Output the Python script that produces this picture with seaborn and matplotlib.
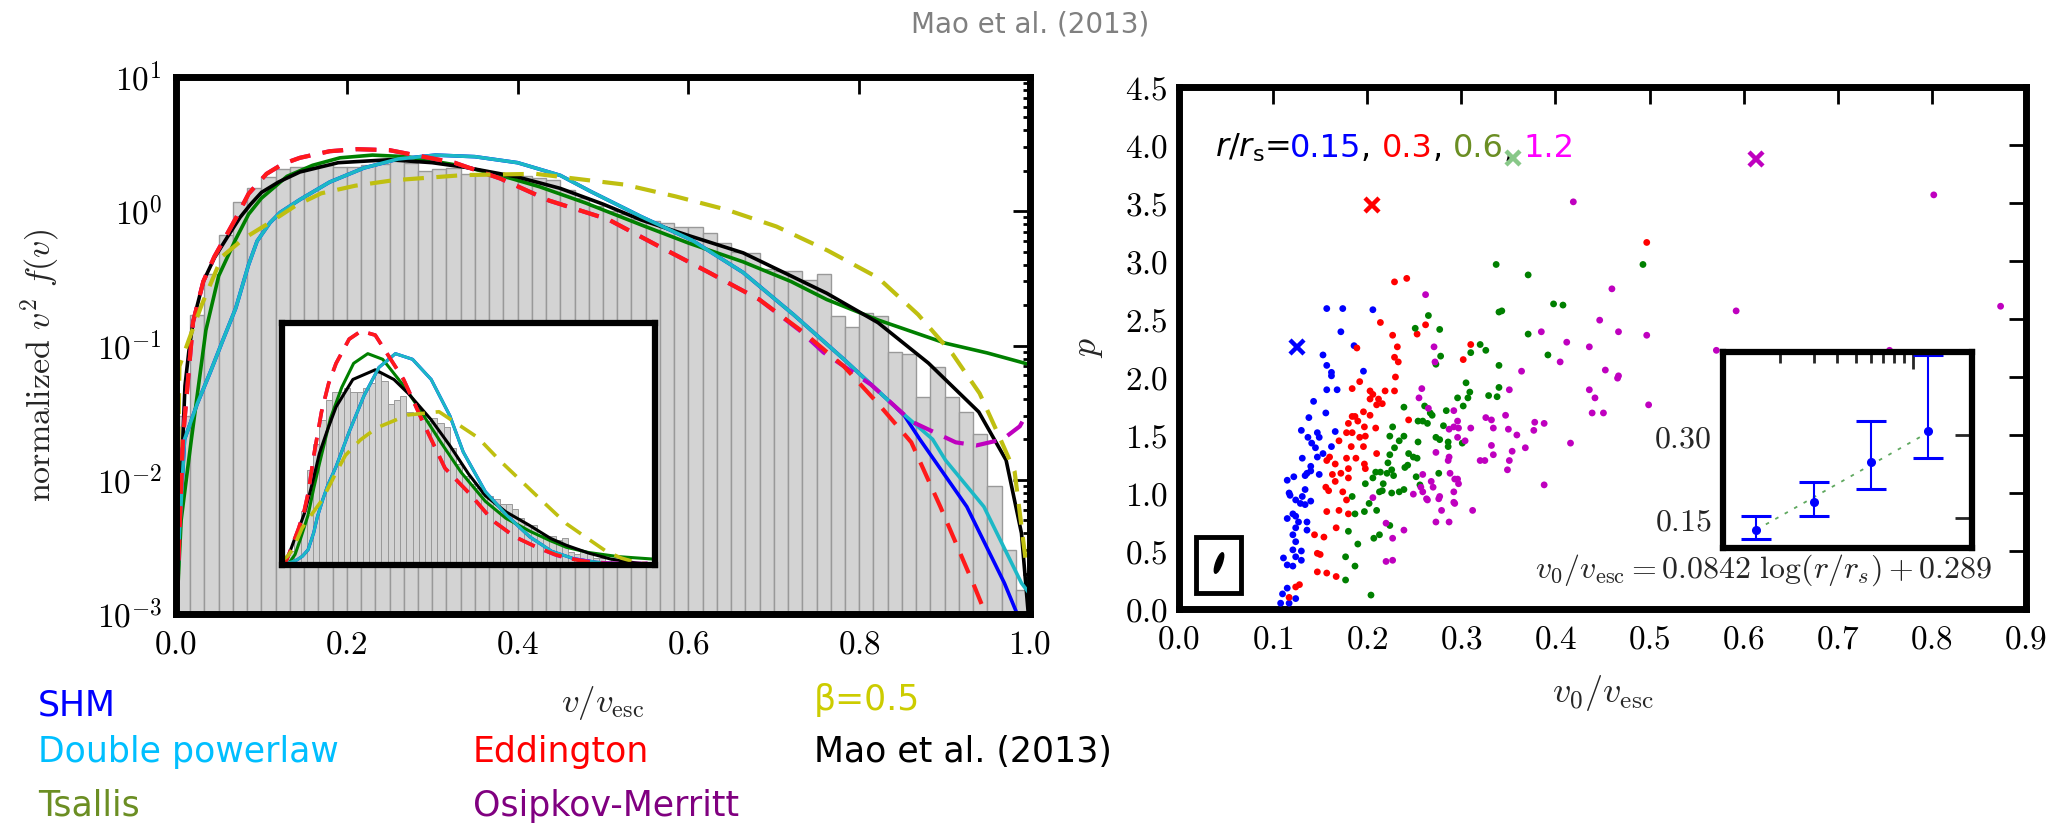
import numpy as np
import pandas as pd
import seaborn as sns
import matplotlib.pyplot as plt
from matplotlib import transforms
from matplotlib.patches import Rectangle, Ellipse
from matplotlib.ticker import MultipleLocator, FuncFormatter, LogLocator, NullFormatter, FixedLocator

# ---------------- data ----------------
# histogram of v/v_esc, 60 equal bins on [0, 1]
n_bins = 60
hist_heights = [0.03, 0.17, 0.34, 0.67, 1.18, 1.5, 1.8, 2.05, 2.14, 2.15,
                2.2, 2.15, 2.15, 2.2, 2.25, 2.38, 2.28, 2.0, 2.05, 2.1,
                1.9, 1.87, 1.87, 1.78, 1.82, 1.76, 1.71, 1.45, 1.25, 1.1,
                1.0, 0.95, 0.88, 0.85, 0.82, 0.76, 0.76, 0.69, 0.58, 0.50,
                0.49, 0.37, 0.36, 0.36, 0.31, 0.34, 0.165, 0.138, 0.176, 0.165,
                0.089, 0.087, 0.041, 0.069, 0.041, 0.032, 0.022, 0.009, 0.003, 0.0015]

# model curves (v/v_esc, normalized v^2 f(v))
dpl_v = [0.0, 0.004, 0.01, 0.025, 0.04, 0.055, 0.07, 0.085, 0.095, 0.11, 0.122, 0.145, 0.18,
         0.22, 0.26, 0.304, 0.35, 0.4, 0.45, 0.486, 0.545, 0.604, 0.664, 0.723, 0.782, 0.842,
         0.886, 0.901, 0.946, 0.99, 1.0]
dpl_y = [0.0008, 0.004, 0.02, 0.037, 0.063, 0.11, 0.19, 0.4, 0.6, 0.82, 0.98, 1.22, 1.65,
         2.1, 2.45, 2.62, 2.55, 2.3, 1.85, 1.4, 0.91, 0.61, 0.35, 0.17, 0.079, 0.035,
         0.02, 0.014, 0.0063, 0.0017, 0.0014]

shm_v = [0.0, 0.004, 0.01, 0.025, 0.04, 0.055, 0.07, 0.085, 0.095, 0.11, 0.122, 0.145, 0.18,
         0.22, 0.26, 0.304, 0.35, 0.4, 0.45, 0.486, 0.545, 0.604, 0.664, 0.723, 0.782, 0.842,
         0.853, 0.871, 0.926, 0.97, 0.985]
shm_y = [0.0008, 0.004, 0.02, 0.037, 0.063, 0.11, 0.19, 0.4, 0.6, 0.82, 0.98, 1.22, 1.65,
         2.1, 2.45, 2.62, 2.55, 2.3, 1.85, 1.4, 0.91, 0.61, 0.35, 0.17, 0.079, 0.035,
         0.03, 0.02, 0.0063, 0.0017, 0.001]

tsallis_v = [0.0, 0.006, 0.018, 0.035, 0.05, 0.07, 0.085, 0.1, 0.13, 0.16, 0.192, 0.23, 0.27,
             0.33, 0.38, 0.426, 0.48, 0.545, 0.6, 0.664, 0.72, 0.762, 0.822, 0.901, 0.95, 1.0]
tsallis_y = [0.0008, 0.005, 0.02, 0.13, 0.33, 0.62, 0.95, 1.25, 1.82, 2.2, 2.5, 2.62, 2.55,
             2.2, 1.85, 1.52, 1.15, 0.79, 0.58, 0.42, 0.3, 0.22, 0.155, 0.104, 0.088, 0.072]

edd_v = [0.0, 0.008, 0.02, 0.032, 0.045, 0.06, 0.071, 0.085, 0.106, 0.125, 0.145, 0.18, 0.212,
         0.25, 0.326, 0.38, 0.437, 0.506, 0.565, 0.624, 0.683, 0.735, 0.782, 0.822, 0.861,
         0.895, 0.935, 0.948]
edd_y = [0.0008, 0.02, 0.15, 0.3, 0.46, 0.68, 0.91, 1.35, 1.9, 2.25, 2.5, 2.8, 2.9,
         2.85, 2.3, 1.75, 1.2, 0.87, 0.55, 0.35, 0.22, 0.125, 0.07, 0.037, 0.019,
         0.0063, 0.0016, 0.001]

om_v = [0.0, 0.008, 0.02, 0.032, 0.045, 0.06, 0.071, 0.085, 0.106, 0.125, 0.145, 0.18, 0.212,
        0.25, 0.326, 0.38, 0.437, 0.506, 0.565, 0.624, 0.683, 0.73, 0.758, 0.814, 0.862,
        0.913, 0.937, 0.968, 0.988, 0.995]
om_y = [0.0008, 0.02, 0.15, 0.3, 0.46, 0.68, 0.91, 1.35, 1.9, 2.25, 2.5, 2.8, 2.9,
        2.85, 2.3, 1.75, 1.2, 0.87, 0.55, 0.35, 0.22, 0.13, 0.089, 0.051, 0.027,
        0.019, 0.018, 0.02, 0.025, 0.03]

beta_v = [0.0, 0.004, 0.015, 0.03, 0.054, 0.08, 0.108, 0.14, 0.17, 0.21, 0.254, 0.337, 0.421,
          0.525, 0.585, 0.644, 0.703, 0.763, 0.822, 0.869, 0.909, 0.941, 0.964, 0.982, 0.995]
beta_y = [0.001, 0.07, 0.11, 0.2, 0.46, 0.63, 0.81, 1.1, 1.36, 1.55, 1.70, 1.86, 1.9,
          1.58, 1.29, 1.03, 0.77, 0.51, 0.32, 0.17, 0.087, 0.044, 0.021, 0.0115, 0.0025]

mao_v = [0.0, 0.004, 0.008, 0.0105, 0.015, 0.02, 0.032, 0.045, 0.06, 0.075, 0.087, 0.1, 0.12,
         0.145, 0.19, 0.25, 0.3, 0.34, 0.4, 0.45, 0.5, 0.545, 0.6, 0.664, 0.72, 0.762, 0.822,
         0.881, 0.94, 0.972, 0.99, 0.998]
mao_y = [0.0008, 0.006, 0.02, 0.05, 0.09, 0.15, 0.3, 0.45, 0.64, 0.9, 1.12, 1.38, 1.65,
         1.96, 2.3, 2.42, 2.3, 2.12, 1.8, 1.48, 1.13, 0.86, 0.66, 0.49, 0.33, 0.245, 0.148,
         0.074, 0.032, 0.014, 0.004, 0.001]

# scatter: v0/v_esc and p for r/r_s = 0.15, 0.3, 0.6, 1.2
blue_v0 = [0.157, 0.174, 0.206, 0.172, 0.186, 0.153, 0.157, 0.162, 0.196, 0.157, 0.168, 0.162,
           0.143, 0.156, 0.138, 0.130, 0.137, 0.147, 0.149, 0.166, 0.141, 0.145, 0.162, 0.131,
           0.147, 0.153, 0.140, 0.136, 0.134, 0.140, 0.122, 0.149, 0.118, 0.131, 0.140, 0.129,
           0.117, 0.134, 0.124, 0.134, 0.115, 0.121, 0.124, 0.127, 0.124, 0.136, 0.121, 0.136,
           0.124, 0.121, 0.130, 0.111, 0.124, 0.115, 0.121, 0.130, 0.115, 0.110, 0.124, 0.108,
           0.117, 0.115]
blue_p = [2.59, 2.59, 2.58, 2.39, 2.27, 2.19, 2.10, 2.04, 2.05, 1.89, 1.89, 2.01,
          1.79, 1.69, 1.65, 1.54, 1.48, 1.52, 1.48, 1.53, 1.43, 1.39, 1.40, 1.30,
          1.31, 1.34, 1.23, 1.17, 1.15, 1.19, 1.14, 1.16, 0.98, 0.97, 0.93, 0.91,
          1.00, 1.03, 0.94, 0.90, 0.78, 0.82, 0.80, 0.75, 0.70, 0.75, 0.64, 0.68,
          0.58, 0.51, 0.50, 0.44, 0.45, 0.38, 0.37, 0.42, 0.18, 0.13, 0.09, 0.05,
          0.05, 1.11]

red_v0 = [0.229, 0.242, 0.214, 0.262, 0.253, 0.227, 0.189, 0.232, 0.229, 0.233, 0.310, 0.302,
          0.230, 0.192, 0.184, 0.203, 0.206, 0.219, 0.229, 0.203, 0.212, 0.216, 0.210, 0.196,
          0.203, 0.184, 0.187, 0.180, 0.190, 0.197, 0.209, 0.178, 0.184, 0.192, 0.198, 0.170,
          0.183, 0.196, 0.244, 0.210, 0.160, 0.166, 0.178, 0.188, 0.198, 0.180, 0.163, 0.172,
          0.180, 0.156, 0.159, 0.166, 0.174, 0.178, 0.497, 0.157, 0.197, 0.170, 0.157, 0.180,
          0.167, 0.144, 0.154, 0.147, 0.150, 0.147, 0.157, 0.167, 0.124, 0.128, 0.117]
red_p = [2.82, 2.85, 2.47, 2.45, 2.37, 2.36, 2.25, 2.26, 2.17, 2.13, 2.28, 2.15,
         2.00, 1.96, 1.90, 1.88, 1.85, 1.88, 1.88, 1.81, 1.81, 1.77, 1.76, 1.70,
         1.67, 1.66, 1.66, 1.60, 1.62, 1.57, 1.56, 1.52, 1.52, 1.48, 1.49, 1.45,
         1.40, 1.40, 1.63, 1.34, 1.31, 1.25, 1.30, 1.30, 1.21, 1.21, 1.16, 1.17,
         1.13, 1.05, 1.02, 1.10, 1.01, 0.94, 3.16, 1.28, 1.25, 0.85, 0.84, 0.82,
         0.70, 0.64, 0.62, 0.48, 0.47, 0.32, 0.31, 0.28, 0.19, 0.21, 0.10]

green_v0 = [0.337, 0.371, 0.493, 0.398, 0.408, 0.340, 0.343, 0.265, 0.251, 0.277, 0.371, 0.320,
            0.326, 0.310, 0.278, 0.273, 0.392, 0.340, 0.305, 0.340, 0.309, 0.329, 0.338, 0.296,
            0.307, 0.239, 0.261, 0.302, 0.284, 0.267, 0.269, 0.254, 0.259, 0.264, 0.281, 0.227,
            0.239, 0.224, 0.234, 0.273, 0.277, 0.286, 0.254, 0.301, 0.286, 0.244, 0.249, 0.253,
            0.224, 0.229, 0.222, 0.243, 0.209, 0.214, 0.221, 0.226, 0.228, 0.276, 0.206, 0.198,
            0.216, 0.226, 0.239, 0.184, 0.202, 0.240, 0.217, 0.213, 0.234, 0.187, 0.197, 0.210,
            0.224, 0.180, 0.207, 0.213, 0.190, 0.177, 0.187, 0.177, 0.204, 0.256, 0.252]
green_p = [2.97, 2.88, 2.97, 2.63, 2.62, 2.56, 2.57, 2.53, 2.42, 2.41, 2.37, 2.28,
           2.23, 2.21, 2.18, 2.11, 2.19, 2.10, 1.95, 1.91, 1.87, 1.84, 1.83, 1.82,
           1.82, 1.74, 1.75, 1.75, 1.71, 1.69, 1.67, 1.62, 1.62, 1.60, 1.58, 1.57,
           1.49, 1.49, 1.45, 1.48, 1.46, 1.44, 1.44, 1.43, 1.40, 1.34, 1.31, 1.30,
           1.33, 1.39, 1.26, 1.24, 1.18, 1.18, 1.17, 1.20, 1.15, 1.17, 1.13, 1.08,
           1.02, 1.00, 1.03, 0.97, 0.91, 1.22, 1.08, 1.01, 1.01, 0.82, 0.84, 0.85,
           0.72, 0.67, 0.61, 0.64, 0.56, 0.45, 0.37, 0.25, 0.12, 1.07, 1.14]

mag_v0 = [0.419, 0.262, 0.460, 0.447, 0.385, 0.467, 0.412, 0.436, 0.497, 0.271, 0.405, 0.272,
          0.364, 0.453, 0.467, 0.436, 0.351, 0.258, 0.255, 0.442, 0.499, 0.439, 0.451, 0.265,
          0.326, 0.332, 0.347, 0.292, 0.296, 0.292, 0.287, 0.297, 0.310, 0.378, 0.388, 0.334,
          0.350, 0.377, 0.359, 0.296, 0.304, 0.416, 0.332, 0.368, 0.354, 0.334, 0.273, 0.286,
          0.320, 0.325, 0.351, 0.259, 0.349, 0.288, 0.296, 0.388, 0.257, 0.259, 0.249, 0.264,
          0.277, 0.292, 0.206, 0.802, 0.873, 0.592, 0.571, 0.755, 0.466, 0.287, 0.293, 0.268,
          0.297, 0.292, 0.263, 0.276, 0.293, 0.312, 0.279, 0.273, 0.287, 0.220, 0.239, 0.227,
          0.220, 0.227, 0.270]
mag_p = [3.51, 2.71, 2.76, 2.49, 2.39, 2.39, 2.30, 2.26, 2.36, 2.26, 2.13, 2.13,
         2.05, 2.06, 2.01, 1.89, 1.89, 1.90, 1.82, 1.82, 1.76, 1.69, 1.69, 1.73,
         1.65, 1.63, 1.67, 1.71, 1.62, 1.57, 1.55, 1.56, 1.56, 1.61, 1.60, 1.56,
         1.55, 1.54, 1.50, 1.48, 1.45, 1.43, 1.41, 1.39, 1.36, 1.33, 1.35, 1.28,
         1.28, 1.28, 1.28, 1.16, 1.20, 1.17, 1.12, 1.07, 1.05, 1.01, 0.99, 0.94,
         0.97, 0.92, 0.96, 3.57, 2.61, 2.57, 2.23, 2.23, 1.99, 1.31, 1.12, 1.10,
         1.08, 1.01, 0.95, 0.95, 0.91, 0.85, 0.85, 0.75, 0.75, 0.74, 0.68, 0.61,
         0.41, 0.42, 1.05]

cross_v0 = [0.125, 0.205, 0.355, 0.613]
cross_p = [2.26, 3.48, 3.885, 3.877]
cross_colors = ['#0000ff', '#ff0000', '#88c888', '#bf00bf']

# inset: fitted v0/v_esc vs r/r_s
rs_vals = [0.15, 0.3, 0.6, 1.2]
v0_mean = [0.128, 0.179, 0.251, 0.307]
v0_low = [0.113, 0.154, 0.203, 0.258]
v0_high = [0.154, 0.215, 0.325, 0.445]
fit_rs = [0.15, 1.1]
fit_v0 = [0.129, 0.297]

legend_rows = [
    ('SHM', '#0000ff', 38, 705),
    ('Double powerlaw', '#00bfff', 38, 752),
    ('Tsallis', 'olivedrab', 38, 806),
    ('Eddington', '#ff0000', 473, 752),
    ('Osipkov-Merritt', '#800080', 473, 806),
    ('\u03b2=0.5', '#cccc00', 814, 700),
    ('Mao et al. (2013)', 'black', 814, 752),
]

# ---------------- figure ----------------
sns.set_style('white')
plt.rcParams['font.family'] = ['DejaVu Sans']
plt.rcParams['mathtext.fontset'] = 'cm'
plt.rcParams['axes.unicode_minus'] = False

W, H = 2059, 823
fig = plt.figure(figsize=(W / 100, H / 100), dpi=100)


def box(x0, y0, x1, y1):
    return [x0 / W, 1 - y1 / H, (x1 - x0) / W, (y1 - y0) / H]


def style_axes(ax, spine=5):
    for s in ax.spines.values():
        s.set_linewidth(spine)
        s.set_color('black')
    ax.tick_params(which='both', direction='in', top=True, right=True,
                   width=2, colors='black', labelsize=24)
    ax.tick_params(which='major', length=12)
    ax.tick_params(which='minor', length=5)


math_fmt1 = FuncFormatter(lambda x, _: r'$%.1f$' % x)

edges = np.linspace(0, 1, n_bins + 1)
hist_df = pd.DataFrame({'v': (edges[:-1] + edges[1:]) / 2, 'h': hist_heights})

curves = [
    (shm_v, shm_y, '#0000ff', '-'),
    (tsallis_v, tsallis_y, '#008000', '-'),
    (mao_v, mao_y, 'black', '-'),
    (dpl_v, dpl_y, '#1cb8c6', '-'),
    (om_v, om_y, '#bf00bf', (0, (5, 3))),
    (edd_v, edd_y, '#ff1a1a', (0, (5, 3))),
    (beta_v, beta_y, '#bfbf10', (0, (5, 3))),
]

# left panel: log histogram with model curves
axL = fig.add_axes(box(176, 77, 1030, 614))
sns.histplot(data=hist_df, x='v', weights='h', bins=n_bins, binrange=(0, 1), color='#d3d3d3',
             edgecolor='#999999', linewidth=1, alpha=1, ax=axL)
for v, y, c, ls in curves:
    sns.lineplot(x=v, y=y, color=c, linestyle=ls, linewidth=2.6 if ls == '-' else 3,
                 estimator=None, sort=False, ax=axL)
axL.set_yscale('log')
axL.set_xlim(0, 1.0)
axL.set_ylim(1e-3, 1e1)
style_axes(axL)
axL.xaxis.set_major_locator(MultipleLocator(0.2))
axL.xaxis.set_major_formatter(math_fmt1)
axL.yaxis.set_major_locator(LogLocator(base=10))
axL.yaxis.set_minor_locator(LogLocator(base=10, subs=np.arange(2, 10)))
axL.yaxis.set_minor_formatter(NullFormatter())
axL.yaxis.set_major_formatter(FuncFormatter(lambda y, _: r'$10^{%d}$' % round(np.log10(y))))
axL.tick_params(axis='x', pad=10)
axL.tick_params(axis='y', pad=10)
axL.set_xlabel(r'$v/v_{\rm esc}$', fontsize=25)
axL.xaxis.set_label_coords(0.5, -(703 - 614) / 537)
axL.xaxis.label.set_va('center')
axL.set_ylabel(r'$\mathrm{normalized}\ v^2\ f(v)$', fontsize=24.5)
axL.yaxis.set_label_coords((40 - 176) / 854, (614 - 365) / 537)
axL.yaxis.label.set_va('center')

# left inset: same in linear scale
axLi = fig.add_axes(box(282, 323, 655, 565))
sns.histplot(data=hist_df, x='v', weights='h', bins=n_bins, binrange=(0, 1), color='#d3d3d3',
             edgecolor='#999999', linewidth=0.7, alpha=1, ax=axLi)
for v, y, c, ls in curves:
    sns.lineplot(x=v, y=y, color=c, linestyle=ls, linewidth=2.2 if ls == '-' else 2.6,
                 estimator=None, sort=False, ax=axLi)
axLi.set_xlim(0, 1)
axLi.set_ylim(0, 3.0)
axLi.set_xticks([])
axLi.set_yticks([])
axLi.set_xlabel('')
axLi.set_ylabel('')
for s in axLi.spines.values():
    s.set_linewidth(4.5)
    s.set_color('black')

# right panel: scatter
axR = fig.add_axes(box(1179, 87, 2026, 609))
groups = {'0.15': (blue_v0, blue_p), '0.3': (red_v0, red_p),
          '0.6': (green_v0, green_p), '1.2': (mag_v0, mag_p)}
scatter_df = pd.concat([pd.DataFrame({'v0': v, 'p': p, 'r': k}) for k, (v, p) in groups.items()],
                       ignore_index=True)
palette = {'0.15': '#0000ff', '0.3': '#ff0000', '0.6': '#008000', '1.2': '#bf00bf'}
sns.scatterplot(data=scatter_df, x='v0', y='p', hue='r', palette=palette, s=24,
                linewidth=0, legend=False, ax=axR, zorder=3)
for xv, pv, c in zip(cross_v0, cross_p, cross_colors):
    axR.plot(xv, pv, marker='x', color=c, markersize=10, mew=3.2, zorder=4)
axR.set_xlim(0, 0.9)
axR.set_ylim(0, 4.5)
style_axes(axR)
axR.xaxis.set_major_locator(MultipleLocator(0.1))
axR.yaxis.set_major_locator(MultipleLocator(0.5))
axR.xaxis.set_major_formatter(math_fmt1)
axR.yaxis.set_major_formatter(math_fmt1)
axR.tick_params(axis='x', pad=10)
axR.tick_params(axis='y', pad=8)
axR.set_xlabel(r'$v_0/v_{\rm esc}$', fontsize=26)
axR.xaxis.set_label_coords(0.5, -(693 - 609) / 522)
axR.xaxis.label.set_va('center')
axR.set_ylabel(r'$p$', fontsize=26)
axR.yaxis.set_label_coords((1088 - 1179) / 847, 0.5)
axR.yaxis.label.set_va('center')

# colored r/r_s annotation
renderer = fig.canvas.get_renderer()
parts = [(r'$r/r_\mathrm{s}$=', 'black', {'math_fontfamily': 'dejavusans'}),
         ('0.15', '#0000ff', {}), (', ', 'black', {}), ('0.3', '#ff0000', {}),
         (', ', 'black', {}), ('0.6', 'olivedrab', {}), (', ', 'black', {}),
         ('1.2', '#ff00ff', {})]
trans = axR.transAxes
for s, c, extra in parts:
    t = axR.text((1215 - 1179) / 847, (609 - 157) / 522, s, color=c, fontsize=23,
                 transform=trans, va='baseline', ha='left', **extra)
    w = t.get_window_extent(renderer).width
    trans = transforms.offset_copy(trans, x=w, units='dots')

# small ellipse box
axR.add_patch(Rectangle(((1196 - 1179) / 847, (609 - 593) / 522), 45 / 847, 56 / 522,
                        transform=axR.transAxes, fill=False, lw=3.5, ec='black', zorder=5))
axR.add_patch(Ellipse(((1219 - 1179) / 847, (609 - 563) / 522), 0.0075, 0.04, angle=-12,
                      transform=axR.transAxes, color='black', zorder=5))

axR.text((1992 - 1179) / 847, (609 - 570) / 522,
         r'$v_0/v_{\rm esc}=0.0842\ \log(r/r_s)+0.289$', fontsize=23,
         transform=axR.transAxes, ha='right', va='center', zorder=6)

# right inset
axRi = fig.add_axes(box(1723, 352, 1972, 548))
sns.lineplot(x=fit_rs, y=fit_v0, color='#5fa85f', linestyle=(0, (2, 4)), linewidth=1.3,
             estimator=None, sort=False, ax=axRi)
yerr = [np.subtract(v0_mean, v0_low), np.subtract(v0_high, v0_mean)]
axRi.errorbar(rs_vals, v0_mean, yerr=yerr, fmt='o', color='#0000ff', ms=5.5,
              capsize=11, capthick=2.2, elinewidth=1.5)
axRi.set_xscale('log')
axRi.set_xlim(0.1, 2.05)
axRi.set_ylim(0.096, 0.45)
for s in axRi.spines.values():
    s.set_linewidth(4.5)
    s.set_color('black')
axRi.tick_params(which='both', direction='in', top=True, right=True, width=2,
                 labelsize=23, labelbottom=False, pad=8)
axRi.tick_params(which='major', length=12)
axRi.tick_params(which='minor', length=8)
axRi.yaxis.set_major_locator(FixedLocator([0.15, 0.30]))
axRi.yaxis.set_major_formatter(FuncFormatter(lambda y, _: r'$%.2f$' % y))
axRi.xaxis.set_minor_formatter(NullFormatter())
axRi.set_xlabel('')
axRi.set_ylabel('')

# title and colour key
fig.text(1030 / W, 1 - 24 / H, 'Mao et al. (2013)', color='#808080', fontsize=20,
         ha='center', va='center')
for s, c, x, y in legend_rows:
    fig.text(x / W, 1 - y / H, s, color=c, fontsize=25, ha='left', va='center')

fig.savefig('out.png', dpi=100)
